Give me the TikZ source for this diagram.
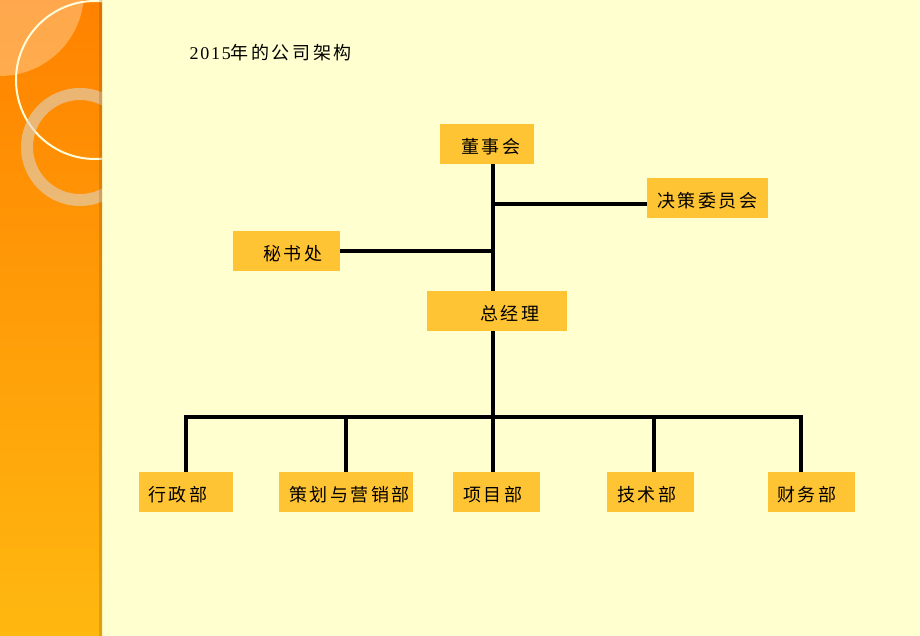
\documentclass[tikz,border=0pt]{standalone}
\usepackage{fontspec}
\setmainfont[LetterSpace=10]{Liberation Serif}
\newfontfamily\cjk[LetterSpace=14]{Noto Sans CJK SC}
\setlength{\parindent}{0pt}

\definecolor{beijing}{RGB}{255,255,208}
\definecolor{kuangse}{RGB}{255,196,51}
\definecolor{chengse}{RGB}{255,130,0}
\definecolor{huangse}{RGB}{255,184,16}
\definecolor{huanse}{RGB}{222,212,192}

\tikzset{
    kuang/.style={fill=kuangse, anchor=west, minimum height=40pt,
        inner xsep=0pt, inner ysep=0pt, align=left,
        text height=21pt, text depth=2pt,
        font=\cjk\fontsize{18}{18}\selectfont},
    xian/.style={line width=3.5pt, black}
}

\begin{document}
\begin{tikzpicture}[x=1pt,y=-1pt]
    \useasboundingbox (0,0) rectangle (920,636);
    \fill[beijing] (0,0) rectangle (920,636);

    % orange band on the left
    \shade[top color=chengse, bottom color=huangse] (0,0) rectangle (102,636);
    \begin{scope}
        \clip (0,0) rectangle (102,636);
        \fill[white, opacity=0.3] (0,-8) circle[radius=84pt];
        \draw[white!85!yellow, line width=2pt] (95,80) circle[radius=79pt];
        \fill[huanse, opacity=0.6, even odd rule] (80,147) circle[radius=59pt] (80,147) circle[radius=47pt];
    \end{scope}
    \fill[black, opacity=0.12] (99,0) rectangle (102,636);

    \node[anchor=west, font=\fontsize{18}{18}\selectfont] (biaoti) at (186,53) {2015{\cjk 年的公司架构}};

    % top part
    \node[kuang, text width=94pt] (dongshi) at (440,144) {\hspace*{21pt}董事会};
    \node[kuang, text width=121pt] (juece) at (647,198) {\hspace*{10pt}决策委员会};
    \node[kuang, text width=107pt] (mishu) at (233,251) {\hspace*{30pt}秘书处};
    \node[kuang, text width=140pt] (zongjingli) at (427,311) {\hspace*{53pt}总经理};

    \coordinate (gan) at (493,0);
    \coordinate (jueceru) at ([yshift=-6pt]juece.west);
    \draw[xian] (dongshi.south -| gan) -- (zongjingli.north -| gan);
    \draw[xian] (gan |- jueceru) -- (jueceru);
    \draw[xian] (mishu.east) -- (gan |- mishu.east);

    % departments
    \node[kuang, text width=94pt] (xingzheng) at (139,492) {\hspace*{9pt}行政部};
    \node[kuang, text width=134pt] (cehua) at (279,492) {\hspace*{10pt}策划与营销部};
    \node[kuang, text width=87pt] (xiangmu) at (453,492) {\hspace*{10pt}项目部};
    \node[kuang, text width=87pt] (jishu) at (607,492) {\hspace*{10pt}技术部};
    \node[kuang, text width=87pt] (caiwu) at (768,492) {\hspace*{9pt}财务部};

    \coordinate (zongxian) at (493,417);
    \draw[xian] (zongjingli.south -| gan) -- (zongxian);

    \coordinate (d1) at (186,417);
    \coordinate (d2) at (346,417);
    \coordinate (d3) at (493,417);
    \coordinate (d4) at (654,417);
    \coordinate (d5) at (801,417);
    \draw[xian, line cap=rect] (d1) -- (d5);
    \foreach \d/\b in {d1/xingzheng, d2/cehua, d3/xiangmu, d4/jishu, d5/caiwu}
        \draw[xian] (\d) -- (\d |- \b.north);

\end{tikzpicture}
\end{document}
